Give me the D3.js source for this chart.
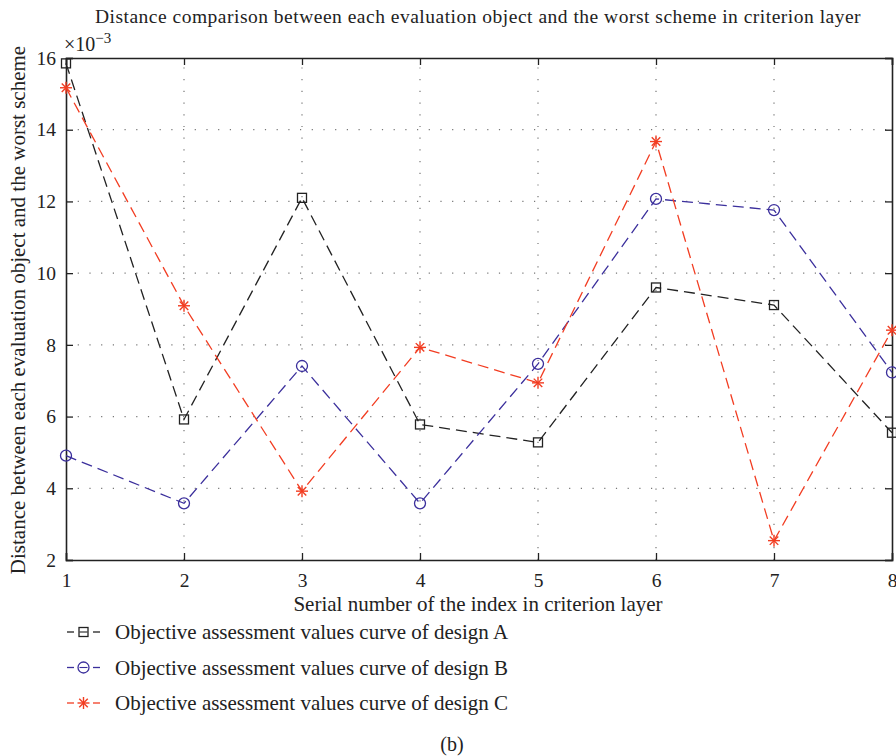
<!DOCTYPE html>
<html>
<head>
<meta charset="utf-8">
<script src="https://cdnjs.cloudflare.com/ajax/libs/d3/7.8.5/d3.min.js"></script>
<style>
  body { margin: 0; background: #fff; }
  svg { font-family: "Liberation Serif", "DejaVu Serif", serif; fill: #222; }
</style>
</head>
<body>
<svg id="chart" width="896" height="756"></svg>
<script>
// values are in units of 1e-3
const indexes = [1, 2, 3, 4, 5, 6, 7, 8];
const designA = [15.85, 5.92, 12.10, 5.78, 5.28, 9.60, 9.11, 5.55];
const designB = [4.91, 3.58, 7.41, 3.58, 7.47, 12.07, 11.76, 7.23];
const designC = [15.17, 9.09, 3.92, 7.93, 6.94, 13.67, 2.54, 8.41];
const yTicks = [2, 4, 6, 8, 10, 12, 14, 16];
const seriesNames = [
  "Objective assessment values curve of design A",
  "Objective assessment values curve of design B",
  "Objective assessment values curve of design C"
];

const svg = d3.select("#chart");
const plotLeft = 66, plotRight = 892, plotTop = 58, plotBottom = 560;

const x = d3.scaleLinear().domain([1, 8]).range([plotLeft, plotRight]);
const y = d3.scaleLinear().domain([2, 16]).range([plotBottom, plotTop]);

// dotted grid
const grid = svg.append("g").attr("stroke", "#777").attr("stroke-width", 1.2)
  .attr("stroke-dasharray", "1.2,10.5");
grid.selectAll(".gx").data(indexes.slice(1, -1)).join("line")
  .attr("x1", d => x(d)).attr("x2", d => x(d))
  .attr("y1", plotBottom).attr("y2", plotTop);
grid.selectAll(".gy").data(yTicks.slice(1, -1)).join("line")
  .attr("x1", plotLeft).attr("x2", plotRight)
  .attr("y1", d => y(d)).attr("y2", d => y(d));

// axes with inward ticks
const axisG = svg.append("g");
axisG.append("g").attr("transform", `translate(0,${plotBottom})`)
  .call(d3.axisBottom(x).tickValues(indexes).tickSize(-7).tickPadding(13).tickFormat(d3.format("d")));
axisG.append("g").attr("transform", `translate(0,${plotTop})`)
  .call(d3.axisTop(x).tickValues(indexes).tickSize(-7).tickFormat(""));
axisG.append("g").attr("transform", `translate(${plotLeft},0)`)
  .call(d3.axisLeft(y).tickValues(yTicks).tickSize(-7).tickPadding(10).tickFormat(d3.format("d")));
axisG.append("g").attr("transform", `translate(${plotRight},0)`)
  .call(d3.axisRight(y).tickValues(yTicks).tickSize(-7).tickFormat(""));
axisG.selectAll(".domain").attr("stroke", "#222").attr("stroke-width", 1.6);
axisG.selectAll(".tick line").attr("stroke", "#222").attr("stroke-width", 1.3);
axisG.selectAll(".tick text").attr("font-size", 19.5).attr("fill", "#222")
  .attr("font-family", "Liberation Serif, serif");

// series
const series = [
  { values: designA, color: "#222222", marker: "square" },
  { values: designB, color: "#3b2f9c", marker: "circle" },
  { values: designC, color: "#f23d22", marker: "star" }
];

const line = d3.line().x((d, i) => x(indexes[i])).y(d => y(d));

function drawMarker(g, kind, color) {
  if (kind === "square") {
    g.append("rect").attr("x", -4.5).attr("y", -4.5).attr("width", 9).attr("height", 9)
      .attr("fill", "none").attr("stroke", color).attr("stroke-width", 1.3);
  } else if (kind === "circle") {
    g.append("circle").attr("r", 5.5).attr("fill", "none")
      .attr("stroke", color).attr("stroke-width", 1.3);
  } else {
    const r = 6;
    [0, 45, 90, 135].forEach(a => {
      const rad = a * Math.PI / 180;
      g.append("line")
        .attr("x1", -r * Math.cos(rad)).attr("y1", -r * Math.sin(rad))
        .attr("x2", r * Math.cos(rad)).attr("y2", r * Math.sin(rad))
        .attr("stroke", color).attr("stroke-width", 1.4);
    });
  }
}

series.forEach(s => {
  svg.append("path").attr("d", line(s.values))
    .attr("fill", "none").attr("stroke", s.color).attr("stroke-width", 1.3)
    .attr("stroke-dasharray", "11,6");
  s.values.forEach((v, i) => {
    const g = svg.append("g").attr("transform", `translate(${x(indexes[i])},${y(v)})`);
    drawMarker(g, s.marker, s.color);
  });
});

// texts
svg.append("text").attr("x", 478).attr("y", 23).attr("text-anchor", "middle")
  .attr("font-size", 19.5).attr("letter-spacing", 0.5)
  .text("Distance comparison between each evaluation object and the worst scheme in criterion layer");

const mult = svg.append("text").attr("x", 64).attr("y", 51).attr("font-size", 20);
mult.append("tspan").text("\u00d710");
mult.append("tspan").attr("dy", -8).attr("font-size", 15).text("\u22123");

svg.append("text").attr("transform", "translate(25,310) rotate(-90)")
  .attr("text-anchor", "middle").attr("font-size", 21)
  .text("Distance between each evaluation object and the worst scheme");

svg.append("text").attr("x", 478).attr("y", 611).attr("text-anchor", "middle")
  .attr("font-size", 21).text("Serial number of the index in criterion layer");

// legend
const legend = svg.append("g");
series.forEach((s, i) => {
  const cy = 632 + i * 35.5;
  const g = legend.append("g").attr("transform", `translate(0,${cy})`);
  g.append("line").attr("x1", 67).attr("x2", 74).attr("y1", 0).attr("y2", 0)
    .attr("stroke", s.color).attr("stroke-width", 1.3);
  g.append("line").attr("x1", 93).attr("x2", 100).attr("y1", 0).attr("y2", 0)
    .attr("stroke", s.color).attr("stroke-width", 1.3);
  const m = g.append("g").attr("transform", "translate(83.5,0)");
  drawMarker(m, s.marker, s.color);
  if (s.marker !== "star") {
    m.append("line").attr("x1", -4).attr("x2", 4).attr("stroke", s.color).attr("stroke-width", 1.1);
  }
  g.append("text").attr("x", 115).attr("y", 7).attr("font-size", 21).text(seriesNames[i]);
});

svg.append("text").attr("x", 452).attr("y", 751).attr("text-anchor", "middle")
  .attr("font-size", 20).text("(b)");
</script>
</body>
</html>
